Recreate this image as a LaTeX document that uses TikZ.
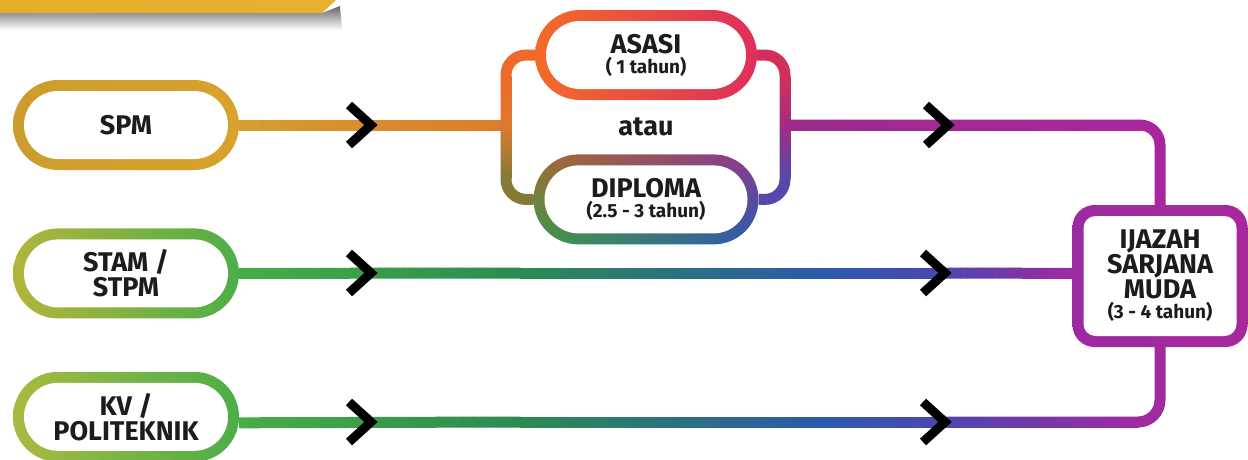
\documentclass[tikz,border=0pt]{standalone}
\usepackage{fontspec}
\setmainfont{Fira Sans}
\usetikzlibrary{calc}
\usetikzlibrary{positioning}
\usetikzlibrary{shadings}

\definecolor{ink}{HTML}{1C1C1C}
\definecolor{goldA}{HTML}{E4AE2A}
\definecolor{goldM}{HTML}{F8DC70}
\definecolor{goldB}{HTML}{E9B030}
\definecolor{spmA}{HTML}{CC9C2E}
\definecolor{spmB}{HTML}{D8A22C}
\definecolor{stamA}{HTML}{B2B53C}
\definecolor{stamB}{HTML}{4DAE48}
\definecolor{kvA}{HTML}{A8BA40}
\definecolor{kvB}{HTML}{4CAE48}
\definecolor{asasiA}{HTML}{F26C28}
\definecolor{asasiB}{HTML}{DE2E5C}
\definecolor{dipUL}{HTML}{A86A30}
\definecolor{dipUR}{HTML}{8A3890}
\definecolor{dipLL}{HTML}{3C9A48}
\definecolor{dipLR}{HTML}{2A5AB2}
\definecolor{ijzA}{HTML}{9C2AA0}
\definecolor{ijzB}{HTML}{A8289C}
\definecolor{spmline}{HTML}{D49E2E}
\definecolor{orng}{HTML}{DE7A2C}
\definecolor{brkTop}{HTML}{EE6A2A}
\definecolor{brkBot}{HTML}{857A38}
\definecolor{rbTop}{HTML}{D2305A}
\definecolor{rbMid}{HTML}{A22E82}
\definecolor{rbBot}{HTML}{5548AA}
\definecolor{trA}{HTML}{9C2C88}
\definecolor{trB}{HTML}{A8259E}
\definecolor{grn}{HTML}{4AAC46}
\definecolor{dgrn}{HTML}{2C8A52}
\definecolor{blu}{HTML}{2C5AAA}
\definecolor{vio}{HTML}{4C46B0}
\definecolor{mag}{HTML}{A02AA0}

\newcommand{\yrs}{\fontsize{19}{20}\selectfont}

% gradient connector, drawn in short pieces
\newcommand{\gline}[4]{%
  \foreach \k [evaluate=\k as \pa using (\k-1)/24, evaluate=\k as \pb using \k/24, evaluate=\k as \mix using 100-(\k-0.5)*100/24] in {1,...,24}
    \draw[conn, color=#3!\mix!#4, shorten >=-0.6pt] ($(#1)!\pa!(#2)$) -- ($(#1)!\pb!(#2)$);%
}

\tikzset{
  conn/.style={line width=11pt},
  pill/.style={rectangle, rounded corners=45pt, minimum width=226pt, minimum height=90pt,
    inner sep=0pt, align=center, text=ink, font=\bfseries\fontsize{27}{25}\selectfont,
    path picture={\fill[white, rounded corners=34pt]
      ($(path picture bounding box.south west)+(11pt,11pt)$) rectangle
      ($(path picture bounding box.north east)+(-11pt,-11pt)$);}},
  endbox/.style={rectangle, rounded corners=22pt, minimum width=175pt, minimum height=142pt,
    inner sep=0pt, align=center, text=ink, font=\bfseries\fontsize{27}{25}\selectfont,
    path picture={\fill[white, rounded corners=12pt]
      ($(path picture bounding box.south west)+(11pt,11pt)$) rectangle
      ($(path picture bounding box.north east)+(-11pt,-11pt)$);}},
  chev/.style={draw=black, line width=9pt, line join=miter}
}

\begin{document}
\begin{tikzpicture}[x=1pt, y=-1pt]
\useasboundingbox (0,0) rectangle (1248,459);

% banner
\shade[top color=black!60, bottom color=white] (0,13) -- (322,13) -- (340,6) -- (342,30) -- (0,30) -- cycle;
\shade[left color=goldA, middle color=goldM, right color=goldB] (0,0) -- (336,0) -- (322,13) -- (0,13) -- cycle;

% Nodos
\node[pill, left color=spmA, right color=spmB] at (126,125) (spm) {SPM};
\node[pill, left color=stamA, right color=stamB, below=58pt of spm] (stam) {STAM /\\STPM};
\node[pill, left color=kvA, right color=kvB, below=53pt of stam] (kv) {KV /\\POLITEKNIK};

\node[pill, minimum width=222pt, left color=asasiA, right color=asasiB] at (646,55) (asasi) {ASASI\\[-5pt]\yrs ( 1 tahun)};
\node[pill, minimum width=225pt, upper left=dipUL, upper right=dipUR, lower left=dipLL, lower right=dipLR, below=54pt of asasi] (diploma) {DIPLOMA\\[-5pt]\yrs (2.5 - 3 tahun)};
\node[text=ink, font=\bfseries\fontsize{27}{25}\selectfont] at ($(asasi)!0.5!(diploma)$) (atau) {atau};

\node[endbox, left color=ijzA, right color=ijzB] at (1160,276) (ijazah) {IJAZAH\\SARJANA\\MUDA\\[-5pt]\yrs (3 - 4 tahun)};

% Puntos
\coordinate (lj) at (506,125);
\coordinate (lt) at (506,77);
\coordinate (lb) at (506,177);
\coordinate (rj) at (785,125);
\coordinate (rt) at (785,77);
\coordinate (rb) at (785,177);
\coordinate (tc) at (1140,125);
\coordinate (s1) at (520,273);
\coordinate (s2) at (820,273);
\coordinate (s3) at (945,273);
\coordinate (s4) at (ijazah.west |- stam.east);
\coordinate (k0) at ([yshift=-6pt]kv.east);
\coordinate (k1) at (520,422);
\coordinate (k2) at (820,422);
\coordinate (k3) at (945,422);
\coordinate (k4) at (1138,422);

% Conexiones
\gline{spm.east}{lj}{spmline}{orng}

\draw[conn, brkTop, rounded corners=20pt] (asasi.west) -| (lj);
\draw[conn, brkBot, rounded corners=20pt] (lj) |- (diploma.west);
\gline{lt}{lj}{brkTop}{orng}
\gline{lj}{lb}{orng}{brkBot}

\draw[conn, rbTop, rounded corners=20pt] (asasi.east) -| (rj);
\draw[conn, rbBot, rounded corners=20pt] (rj) |- (diploma.east);
\gline{rt}{rj}{rbTop}{rbMid}
\gline{rj}{rb}{rbMid}{rbBot}

\draw[conn, trB, rounded corners=20pt] (rj) -| (ijazah.north);
\gline{rj}{tc}{trA}{trB}

\gline{stam.east}{s1}{grn}{dgrn}
\gline{s1}{s2}{dgrn}{blu}
\gline{s2}{s3}{blu}{vio}
\gline{s3}{s4}{vio}{mag}

\draw[conn, mag, rounded corners=22pt] (k3) -| (ijazah.south);
\gline{k0}{k1}{grn}{dgrn}
\gline{k1}{k2}{dgrn}{blu}
\gline{k2}{k3}{blu}{vio}
\gline{k3}{k4}{vio}{mag}

% Flechas
\coordinate (v1) at (371,125);
\coordinate (v2) at (948,125);
\coordinate (v3) at (371,273);
\coordinate (v4) at (945,273);
\coordinate (v5) at (371,422);
\coordinate (v6) at (945,422);
\foreach \v in {v1,v2,v3,v4,v5,v6}
  \draw[chev] ($(\v)+(-22,-20)$) -- (\v) -- ($(\v)+(-22,20)$);

\end{tikzpicture}
\end{document}
